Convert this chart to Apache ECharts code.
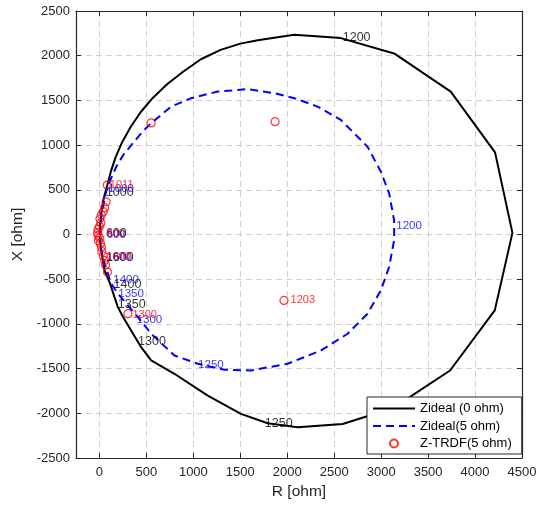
<!DOCTYPE html>
<html>
<head>
<meta charset="utf-8">
<title>Impedance locus</title>
<script src="https://cdn.jsdelivr.net/npm/echarts@6/dist/echarts.min.js"></script>
<style>
  html, body { margin: 0; padding: 0; background: #fff; }
  #chart { width: 537px; height: 508px; }
</style>
</head>
<body>
<div id="chart"></div>
<script>
// Ideal impedance locus, 0 ohm fault resistance: [R, X] in ohm, ordered by frequency
const zIdeal0 = [
  [2, 0], [5, 60], [10, 140], [18, 230], [30, 320], [45, 400], [60, 465], [85, 560],
  [120, 700], [170, 860], [240, 1030], [330, 1200], [440, 1370], [570, 1530],
  [720, 1680], [890, 1820], [1080, 1960], [1290, 2065], [1500, 2135], [1685, 2172],
  [2074, 2234], [2571, 2197], [3146, 2021], [3741, 1599], [4213, 919], [4398, 18],
  [4210, -849], [3734, -1521], [3130, -1940], [2589, -2119], [2111, -2157],
  [1791, -2112], [1507, -2007], [1153, -1802], [798, -1558], [550, -1409],
  [444, -1260], [337, -1073], [250, -920], [196, -812], [160, -700], [110, -540],
  [53, -400], [30, -250], [12, -120], [2, -20]
];

// Ideal impedance locus, 5 ohm fault resistance
const zIdeal5 = [
  [3, 0], [10, 100], [20, 210], [40, 320], [65, 450], [90, 545], [178, 758],
  [260, 900], [355, 1020], [450, 1140], [550, 1244], [763, 1430], [976, 1525],
  [1260, 1599], [1579, 1626], [1862, 1581], [2074, 1525], [2323, 1431],
  [2571, 1281], [2749, 1094], [2855, 982], [2997, 702], [3085, 460], [3138, 160],
  [3138, -64], [3085, -363], [2997, -624], [2855, -886], [2643, -1110],
  [2359, -1297], [2004, -1446], [1614, -1521], [1330, -1513], [1047, -1446],
  [798, -1353], [550, -1110], [409, -924], [196, -661], [124, -549], [61, -344],
  [18, -176], [3, -60]
];

// Z-TRDF estimates, 5 ohm fault resistance
const zTrdf = [
  [83, 553], [71, 366], [55, 300], [40, 255], [20, 220], [5, 175], [15, 130],
  [0, 90], [-15, 60], [-20, 20], [-15, -10], [0, -40], [-10, -70], [10, -100],
  [20, -140], [25, -190], [40, -240], [55, -290], [65, -340], [85, -420],
  [303, -886], [1965, -737], [1870, 1262], [550, 1248]
];

// Frequency tags (Hz) placed at their points on each locus
const tags0 = [
  [2580, 2200, '1200'], [1750, -2115, '1250'], [400, -1195, '1300'],
  [185, -780, '1350'], [140, -565, '1400'], [58, 465, '1000'],
  [58, -255, '1600'], [58, 12, '600']
];
const tags5 = [
  [3150, 93, '1200'], [1040, -1453, '1250'], [385, -953, '1300'],
  [190, -669, '1350'], [136, -505, '1400'], [84, 516, '1000'],
  [66, -258, '1600'], [66, 0, '600']
];
const tagsTrdf = [
  [100, 550, '1011'], [340, -903, '1300'], [2025, -737, '1203'],
  [62, -255, '1600'], [62, 2, '600']
];

// Axis ranges and tick spacing (ohm)
const rRange = [-250, 4500];
const xRange = [-2500, 2500];
const tickStep = 500;

const FONT = '"Liberation Sans", Arial, Helvetica, sans-serif';
const AXIS_INK = '#262626';
// legend keys of the two loci: stroke only, no marker
const strokeOnlyKey = { color: 'rgba(0,0,0,0)', borderColor: 'rgba(0,0,0,0)', borderWidth: 0 };

const toTagData = (list) => list.map(t => ({ value: [t[0], t[1]], name: t[2] }));

const tagSeries = (list, color, size) => ({
  type: 'scatter',
  data: toTagData(list),
  symbolSize: 0,
  silent: true,
  z: 5,
  label: {
    show: true,
    position: 'right',
    distance: 1,
    formatter: '{b}',
    color: color,
    fontSize: size,
    fontFamily: FONT
  }
});

const gridLine = { show: true, lineStyle: { color: '#d0d0d0', width: 1, type: [6, 4] } };

const baseX = {
  type: 'value',
  min: rRange[0],
  max: rRange[1],
  splitNumber: 10,
  axisLine: { show: true, onZero: false, lineStyle: { color: AXIS_INK, width: 1.2 } },
  axisTick: { show: true, inside: true, length: 5, lineStyle: { color: AXIS_INK } }
};
const baseY = {
  type: 'value',
  min: xRange[0],
  max: xRange[1],
  interval: tickStep,
  axisLine: { show: true, onZero: false, lineStyle: { color: AXIS_INK, width: 1.2 } },
  axisTick: { show: true, inside: true, length: 5, lineStyle: { color: AXIS_INK } }
};

const chart = echarts.init(document.getElementById('chart'), null, { renderer: 'canvas' });

chart.setOption({
  animation: false,
  backgroundColor: '#ffffff',
  grid: { left: 76, top: 11, width: 446, height: 447, outerBoundsMode: 'none' },
  xAxis: [
    Object.assign({}, baseX, {
      position: 'bottom',
      name: 'R [ohm]',
      nameLocation: 'middle',
      nameGap: 25,
      nameTextStyle: { color: AXIS_INK, fontSize: 15.5, fontFamily: FONT },
      axisLabel: {
        color: AXIS_INK, fontSize: 13, fontFamily: FONT, margin: 8,
        formatter: v => (v % tickStep === 0 ? String(v) : '')
      },
      splitLine: gridLine
    }),
    Object.assign({}, baseX, {
      position: 'top',
      axisLabel: { show: false },
      splitLine: { show: false }
    })
  ],
  yAxis: [
    Object.assign({}, baseY, {
      position: 'left',
      name: 'X [ohm]',
      nameLocation: 'middle',
      nameGap: 40,
      nameTextStyle: { color: AXIS_INK, fontSize: 15.5, fontFamily: FONT },
      axisLabel: {
        color: AXIS_INK, fontSize: 13, fontFamily: FONT, margin: 6,
        formatter: v => String(v)
      },
      splitLine: gridLine
    }),
    Object.assign({}, baseY, {
      position: 'right',
      axisLabel: { show: false },
      splitLine: { show: false }
    })
  ],
  legend: {
    data: [
      { name: 'Zideal (0 ohm)', itemStyle: strokeOnlyKey },
      { name: 'Zideal(5 ohm)', itemStyle: strokeOnlyKey },
      { name: 'Z-TRDF(5 ohm)' }
    ],
    orient: 'vertical',
    left: 367,
    top: 397,
    padding: [5, 10, 4, 5],
    itemWidth: 42,
    itemHeight: 8,
    itemGap: 4.5,
    backgroundColor: '#ffffff',
    borderColor: AXIS_INK,
    borderWidth: 1,
    borderRadius: 0,
    textStyle: { color: '#000000', fontSize: 13, fontFamily: FONT }
  },
  series: [
    {
      name: 'Zideal (0 ohm)',
      type: 'line',
      data: zIdeal0,
      symbol: 'none',
      showSymbol: false,
      smooth: false,
      z: 3,
      lineStyle: { color: '#000000', width: 2 },
      itemStyle: { color: '#000000' }
    },
    {
      name: 'Zideal(5 ohm)',
      type: 'line',
      data: zIdeal5,
      symbol: 'none',
      showSymbol: false,
      smooth: false,
      z: 3,
      lineStyle: { color: '#0000ff', width: 2, type: [8, 5] },
      itemStyle: { color: '#0000ff' }
    },
    {
      name: 'Z-TRDF(5 ohm)',
      type: 'scatter',
      data: zTrdf,
      symbol: 'circle',
      symbolSize: 8,
      z: 4,
      itemStyle: { color: 'rgba(255,255,255,0)', borderColor: '#ff0000', borderWidth: 1.2 }
    },
    tagSeries(tags0, '#000000', 12.5),
    tagSeries(tags5, '#0000ff', 11.5),
    tagSeries(tagsTrdf, '#ff0000', 11)
  ]
});
</script>
</body>
</html>
